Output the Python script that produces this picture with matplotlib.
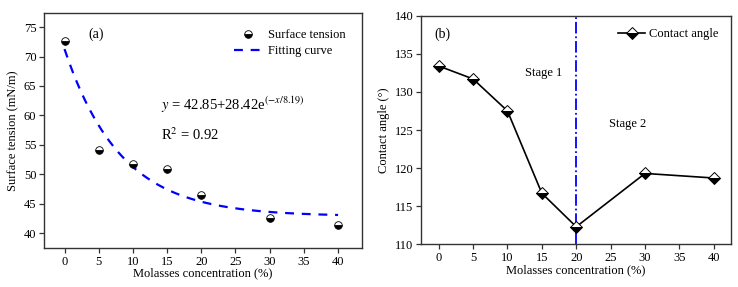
import numpy as np
import matplotlib
matplotlib.use('Agg')
import matplotlib.pyplot as plt

plt.rcParams['font.family'] = ['Liberation Serif', 'DejaVu Serif']
plt.rcParams['mathtext.fontset'] = 'stix'
plt.rcParams['font.size'] = 9

# 数据
conc = [0, 5, 10, 15, 20, 30, 40]
surface_tension = [72.6, 54.1, 51.8, 50.9, 46.5, 42.6, 41.3]
contact_angle = [133.4, 131.7, 127.5, 116.7, 112.3, 119.3, 118.7]

# 拟合参数 y = a + b*exp(-x/t)
fit_a, fit_b, fit_t = 42.85, 28.42, 8.19

fig = plt.figure(figsize=(7.38, 2.87), dpi=100)
ax1 = fig.add_axes([44 / 738, 1 - 248 / 287, 318 / 738, 235 / 287])
ax2 = fig.add_axes([421 / 738, 1 - 244.3 / 287, 310 / 738, 228.6 / 287])

spine_color = '#333333'
for ax in (ax1, ax2):
    for s in ax.spines.values():
        s.set_color(spine_color)
        s.set_linewidth(1.0)
    ax.tick_params(direction='out', length=3.5, width=0.9, color=spine_color,
                   labelsize=9, pad=2)

# (a) 表面张力
xf = np.linspace(0, 40, 200)
ax1.plot(xf, fit_a + fit_b * np.exp(-xf / fit_t), color='#0000ff', lw=1.6,
         ls=(0, (4, 3.5)), label='Fitting curve', zorder=2)
ax1.plot(conc, surface_tension, ls='none', marker='o', ms=5.5,
         fillstyle='bottom', markerfacecolor='black', markerfacecoloralt='white',
         markeredgecolor='black', markeredgewidth=0.6, label='Surface tension',
         zorder=3)
ax1.set_xlim(-3, 43.5)
ax1.set_ylim(37.45, 77.4)
ax1.set_xticks(range(0, 41, 5))
ax1.set_yticks(range(40, 76, 5))
ax1.set_xlabel('Molasses concentration (%)', labelpad=0)
ax1.set_ylabel('Surface tension (mN/m)', labelpad=3)
handles, labels = ax1.get_legend_handles_labels()
ax1.legend(handles[::-1], labels[::-1], loc='upper right', frameon=False,
           fontsize=9, handlelength=2.2, handletextpad=0.5, labelspacing=0.3,
           borderaxespad=0.9, bbox_to_anchor=(1.0, 1.0))
ax1.text(4.6, 73.8, '(a)', fontsize=10, ha='center', va='center')
ax1.text(14.1, 61.8, r'$\mathit{y}$ = 42.85+28.42e$^{(-\mathit{x}/8.19)}$',
         fontsize=10.5, ha='left', va='center')
ax1.text(14.1, 56.7, r'R$^2$ = 0.92', fontsize=10.5, ha='left', va='center')

# (b) 接触角
ax2.axvline(20, color='#0000ff', lw=1.3, ls='-.', zorder=1)
ax2.plot(conc, contact_angle, color='black', lw=1.2, marker='D', ms=6,
         fillstyle='bottom', markerfacecolor='black', markerfacecoloralt='white',
         markeredgecolor='black', markeredgewidth=0.7, label='Contact angle',
         zorder=3)
ax2.set_xlim(-2.57, 42.5)
ax2.set_ylim(110, 140)
ax2.set_xticks(range(0, 41, 5))
ax2.set_yticks(range(110, 141, 5))
ax2.set_xlabel('Molasses concentration (%)', labelpad=0)
ax2.set_ylabel('Contact angle (°)', labelpad=3)
ax2.legend(loc='upper right', frameon=False, fontsize=9, handlelength=2.2,
           handletextpad=0.3, borderaxespad=0.6)
ax2.text(0.6, 137.6, '(b)', fontsize=10, ha='center', va='center')
ax2.text(15.2, 132.5, 'Stage 1', fontsize=9, ha='center', va='center')
ax2.text(27.4, 125.8, 'Stage 2', fontsize=9, ha='center', va='center')

fig.savefig('out.png', dpi=100)
